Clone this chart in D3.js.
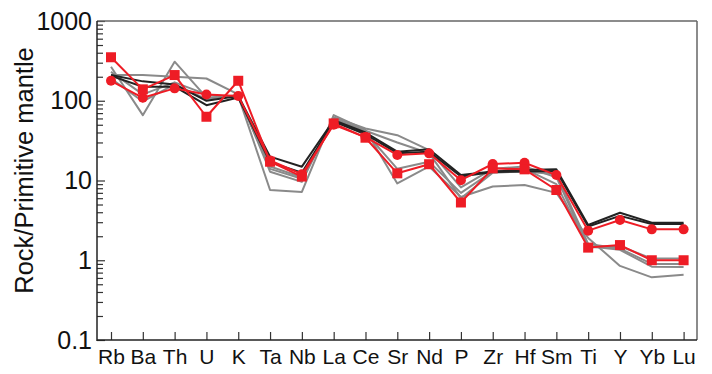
<!DOCTYPE html>
<html><head><meta charset="utf-8">
<script src="https://cdn.jsdelivr.net/npm/d3@7"></script>
<style>body{margin:0;background:#fff}svg{display:block}</style>
</head><body>
<svg id="c" width="712" height="374"></svg>
<script>
const categories = ["Rb","Ba","Th","U","K","Ta","Nb","La","Ce","Sr","Nd","P","Zr","Hf","Sm","Ti","Y","Yb","Lu"];
const yTickLabels = ["0.1","1","10","100","1000"];
const yTickValues = [0.1,1,10,100,1000];

const gray1 = [267,66,309,110,115,7.6,7.2,66,43,9.2,15,6.2,8.4,8.8,7.0,1.9,0.85,0.61,0.66];
const gray2 = [210,210,200,190,120,12.9,9.6,62,45,37,24,8.2,14,15,11,1.5,1.35,0.83,0.82];
const gray3 = [190,98,160,105,118,14,10.5,58,40,14,17.2,7,13,14,9,1.45,1.5,1.05,1.05];
const gray4 = [230,120,170,120,110,15,11,60,42,30,22,6,12.5,13,12,1.6,1.4,0.9,0.9];
const black1 = [210,175,160,100,115,19.9,14.9,57,40,23,24.6,11.7,13,13.5,13.8,2.77,3.94,2.96,2.96];
const black2 = [205,150,150,88,110,17,12.5,55,38,22,23,11.2,12.8,13,13.2,2.65,3.6,2.85,2.85];
const redSquare = [351,139,210,63,178,17.2,11.2,52,34.4,12.3,16,5.3,14.2,13.8,7.6,1.44,1.55,1.0,1.0];
const redCircle = [178,109,143,120,115,17.8,12,50,35,20.9,21.9,10.1,16.1,16.7,11.7,2.35,3.2,2.44,2.44];

const L=97, R=697, T=21, B=340;
const svg = d3.select("#c");
const x = d3.scalePoint().domain(categories).range([111, 683.6]);
const y = d3.scaleLog().domain([0.1,1000]).range([B, T]);
const font = "'Liberation Sans', Arial, Helvetica, sans-serif";

// minor ticks
const minor = y.ticks().filter(v => !yTickValues.some(t => Math.abs(t-v)/t < 1e-9));
const gMinor = svg.append("g").attr("transform",`translate(${L},0)`)
  .call(d3.axisLeft(y).tickValues(minor).tickSize(-6).tickFormat(""));
gMinor.select(".domain").remove();
gMinor.selectAll("line").attr("stroke","#333").attr("stroke-width",1.2);

const gY = svg.append("g").attr("transform",`translate(${L},0)`)
  .call(d3.axisLeft(y).tickValues(yTickValues).tickSize(-8).tickPadding(5)
    .tickFormat((d,i)=>yTickLabels[i]));
gY.select(".domain").remove();
gY.selectAll("line").attr("stroke","#333").attr("stroke-width",1.2);
gY.selectAll("text").attr("font-family",font).attr("font-size",25).attr("fill","#111");

const gX = svg.append("g").attr("transform",`translate(0,${B})`)
  .call(d3.axisBottom(x).tickSize(-8).tickPadding(9));
gX.select(".domain").remove();
gX.selectAll("line").attr("stroke","#333").attr("stroke-width",1.2);
gX.selectAll("text").attr("font-family",font).attr("font-size",21).attr("fill","#111");

// frame
svg.append("line").attr("x1",L).attr("x2",R).attr("y1",T).attr("y2",T).attr("stroke","#666").attr("stroke-width",1.5);
svg.append("line").attr("x1",R).attr("x2",R).attr("y1",T).attr("y2",B).attr("stroke","#666").attr("stroke-width",1.5);
svg.append("line").attr("x1",L).attr("x2",L).attr("y1",T).attr("y2",B+1).attr("stroke","#222").attr("stroke-width",1.5);
svg.append("line").attr("x1",L).attr("x2",R).attr("y1",B).attr("y2",B).attr("stroke","#222").attr("stroke-width",1.5);

// y title
svg.append("text").attr("transform",`translate(33,${(T+B)/2-10}) rotate(-90)`)
  .attr("text-anchor","middle").attr("font-family",font).attr("font-size",25.5).attr("fill","#111")
  .text("Rock/Primitive mantle");

const line = d3.line().x((d,i)=>x(categories[i])).y(d=>y(d));
const plotSeries = (vals,color,w) => svg.append("path").datum(vals).attr("d",line)
  .attr("fill","none").attr("stroke",color).attr("stroke-width",w).attr("stroke-linejoin","round");

[gray1,gray2,gray3,gray4].forEach(s=>plotSeries(s,"#8a8a8a",2));
[black1,black2].forEach(s=>plotSeries(s,"#222",2));
plotSeries(redCircle,"#ee1c25",2);
plotSeries(redSquare,"#ee1c25",2);

svg.append("g").selectAll("circle").data(redCircle).join("circle")
  .attr("cx",(d,i)=>x(categories[i])).attr("cy",d=>y(d)).attr("r",5).attr("fill","#ee1c25");
svg.append("g").selectAll("rect").data(redSquare).join("rect")
  .attr("x",(d,i)=>x(categories[i])-5).attr("y",d=>y(d)-5).attr("width",10).attr("height",10).attr("fill","#ee1c25");
</script>
</body></html>
